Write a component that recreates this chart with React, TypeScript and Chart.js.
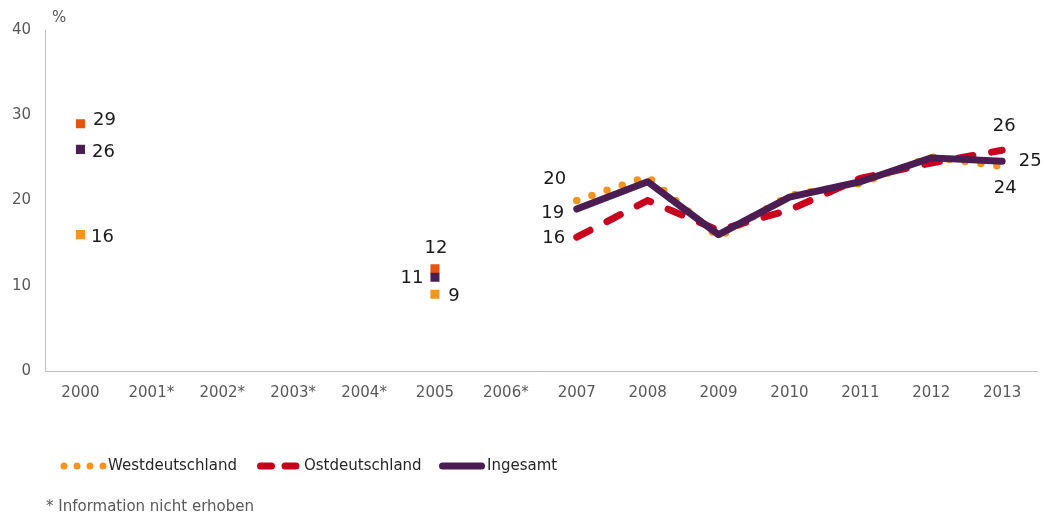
import React, { useEffect, useRef } from "react";
import { Chart, registerables } from "chart.js";

Chart.register(...registerables);

const categories = ["2000", "2001*", "2002*", "2003*", "2004*", "2005", "2006*", "2007", "2008", "2009", "2010", "2011", "2012", "2013"];
const westValues = [16, null, null, null, null, 9, null, 20, 22.8, 15.7, 20.6, 22.0, 25.1, 24.0];
const ostValues = [29, null, null, null, null, 12, null, 15.7, 20.0, 16.5, 18.9, 22.6, 24.4, 25.9];
const gesamtValues = [26, null, null, null, null, 11, null, 19.0, 22.2, 16.0, 20.4, 22.2, 25.0, 24.6];
const seriesNames = ["Westdeutschland", "Ostdeutschland", "Ingesamt"];
const yTicks = [0, 10, 20, 30, 40];
const footnote = "* Information nicht erhoben";
const unitLabel = "%";

// dataset index, category index, shown text
const valueLabels: [number, number, string][] = [
  [1, 0, "29"], [2, 0, "26"], [0, 0, "16"],
  [1, 5, "12"], [2, 5, "11"], [0, 5, "9"],
  [0, 7, "20"], [2, 7, "19"], [1, 7, "16"],
  [1, 13, "26"], [2, 13, "25"], [0, 13, "24"],
];
// label offsets (style only)
const labelOffsets: [number, number][] = [
  [24, -3], [23, 3], [22, 3],
  [1, -20], [-23, 1], [19, 2],
  [-22, -21], [-24, 4], [-23, 1],
  [2, -24], [28, 0], [3, 22],
];

const COL_WEST = "#F7941D";
const COL_OST = "#C8001E";
const COL_OST_MARK = "#E8540F";
const COL_GES = "#4B1D52";
const FONT = "'DejaVu Sans', Verdana, sans-serif";

const markerIdx = [0, 5];
const radii = (n: number) => categories.map((_, i) => (markerIdx.includes(i) ? n : 0));
const markColors = (mark: string, line: string) => categories.map((_, i) => (markerIdx.includes(i) ? mark : line));

const extrasPlugin = {
  id: "extras",
  afterDatasetsDraw(chart: any) {
    const ctx = chart.ctx;
    ctx.save();
    ctx.font = `18px ${FONT}`;
    ctx.fillStyle = "#1a1a1a";
    ctx.textAlign = "center";
    ctx.textBaseline = "middle";
    valueLabels.forEach(([ds, idx, text], k) => {
      const el = chart.getDatasetMeta(ds).data[idx];
      if (!el) return;
      const [dx, dy] = labelOffsets[k];
      ctx.fillText(text, el.x + dx, el.y + dy);
    });
    ctx.restore();
  },
  afterDraw(chart: any) {
    const ctx = chart.ctx;
    const area = chart.chartArea;
    ctx.save();
    // unit label
    ctx.font = `15px ${FONT}`;
    ctx.fillStyle = "#595959";
    ctx.textAlign = "left";
    ctx.textBaseline = "middle";
    ctx.fillText(unitLabel, area.left + 7, area.top - 12);

    // legend
    const ly = 466;
    ctx.lineCap = "round";
    // West dots
    ctx.strokeStyle = COL_WEST;
    ctx.lineWidth = 7;
    ctx.setLineDash([0, 13]);
    ctx.beginPath();
    ctx.moveTo(64, ly);
    ctx.lineTo(105, ly);
    ctx.stroke();
    // Ost dashes
    ctx.strokeStyle = COL_OST;
    ctx.lineWidth = 7;
    ctx.setLineDash([11, 13.5]);
    ctx.beginPath();
    ctx.moveTo(260.5, ly);
    ctx.lineTo(296, ly);
    ctx.stroke();
    // Gesamt solid
    ctx.strokeStyle = COL_GES;
    ctx.setLineDash([]);
    ctx.beginPath();
    ctx.moveTo(442.5, ly);
    ctx.lineTo(481.5, ly);
    ctx.stroke();

    ctx.font = `15px ${FONT}`;
    ctx.fillStyle = "#262626";
    ctx.textBaseline = "middle";
    ctx.fillText(seriesNames[0], 108, ly);
    ctx.fillText(seriesNames[1], 304, ly);
    ctx.fillText(seriesNames[2], 487, ly);

    // footnote
    ctx.font = `15px ${FONT}`;
    ctx.fillStyle = "#595959";
    ctx.fillText(footnote, 46, 507);
    ctx.restore();
  },
};

export default function App() {
  const ref = useRef<HTMLCanvasElement | null>(null);
  useEffect(() => {
    if (!ref.current) return;
    const chart = new Chart(ref.current, {
      type: "line",
      data: {
        labels: categories,
        datasets: [
          {
            label: seriesNames[0],
            data: westValues,
            borderColor: COL_WEST,
            borderWidth: 7.5,
            borderDash: [0, 16],
            borderCapStyle: "round",
            pointStyle: "rect",
            pointRadius: radii(6.4),
            pointBorderWidth: 0,
            pointBackgroundColor: markColors(COL_WEST, COL_WEST),
            spanGaps: false,
            tension: 0,
            order: 2,
          },
          {
            label: seriesNames[1],
            data: ostValues,
            borderColor: COL_OST,
            borderWidth: 7,
            borderDash: [15, 19],
            borderCapStyle: "round",
            pointStyle: "rect",
            pointRadius: radii(6.4),
            pointBorderWidth: 0,
            pointBackgroundColor: markColors(COL_OST_MARK, COL_OST),
            spanGaps: false,
            tension: 0,
            order: 1,
          },
          {
            label: seriesNames[2],
            data: gesamtValues,
            borderColor: COL_GES,
            borderWidth: 7,
            borderCapStyle: "round",
            borderJoinStyle: "round",
            pointStyle: "rect",
            pointRadius: radii(6.4),
            pointBorderWidth: 0,
            pointBackgroundColor: markColors(COL_GES, COL_GES),
            spanGaps: false,
            tension: 0,
            order: 0,
          },
        ],
      } as any,
      options: {
        responsive: false,
        animation: false,
        devicePixelRatio: 1,
        events: [],
        layout: { padding: { left: 0, right: 4, top: 30, bottom: 0 } },
        plugins: {
          legend: { display: false },
          tooltip: { enabled: false },
        },
        scales: {
          x: {
            offset: true,
            grid: { display: true, drawOnChartArea: false, drawTicks: false, offset: true },
            border: { display: true, color: "#BFBFBF", width: 1 },
            ticks: {
              color: "#595959",
              font: { family: FONT, size: 15 },
              padding: 13,
              maxRotation: 0,
              autoSkip: false,
            },
            afterFit: (s: any) => { s.height = 143; },
          },
          y: {
            min: 0,
            max: 40,
            afterBuildTicks: (s: any) => { s.ticks = yTicks.map((v) => ({ value: v })); },
            grid: { display: true, drawOnChartArea: false, drawTicks: false },
            border: { display: true, color: "#BFBFBF", width: 1 },
            ticks: {
              color: "#595959",
              font: { family: FONT, size: 15 },
              padding: 14,
            },
            afterFit: (s: any) => { s.width = 45; },
          },
        },
      } as any,
      plugins: [extrasPlugin],
    });
    return () => chart.destroy();
  }, []);
  return (
    <div style={{ position: "absolute", left: 0, top: 0, width: 1044, height: 514, background: "#fff" }}>
      <canvas ref={ref} width={1044} height={514} style={{ width: 1044, height: 514, display: "block" }} />
    </div>
  );
}
